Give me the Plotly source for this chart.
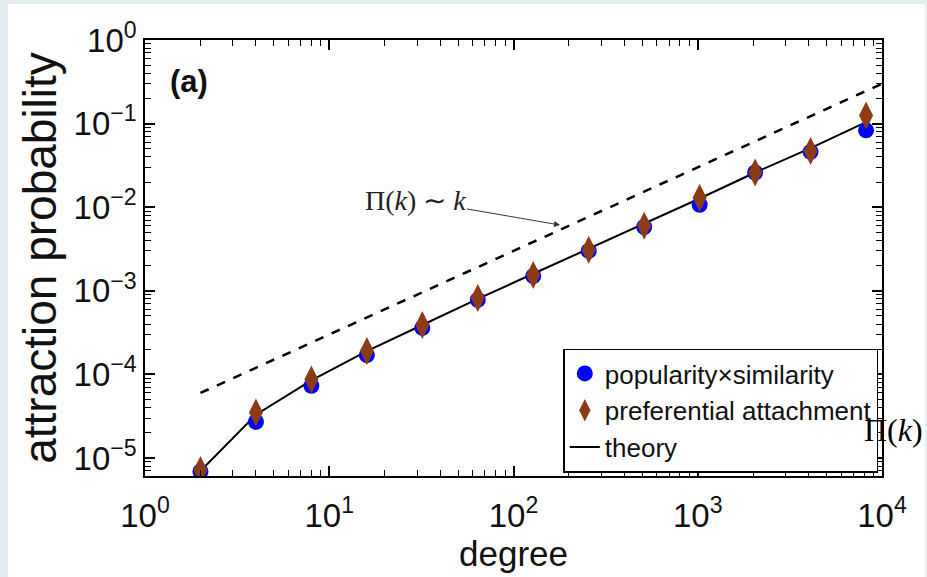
import plotly.graph_objects as go

# ---- data ----
degree = [2, 4, 8, 16, 32, 64, 128, 256, 512, 1024, 2048, 4096, 8192]
pop_sim = [6.9e-6, 2.7e-5, 7.3e-5, 1.7e-4, 3.6e-4, 7.8e-4, 1.5e-3, 3.0e-3, 5.8e-3, 1.07e-2, 2.6e-2, 4.6e-2, 8.3e-2]
pref_att = [7.2e-6, 3.5e-5, 8.7e-5, 1.9e-4, 3.9e-4, 8.2e-4, 1.55e-3, 3.1e-3, 6.0e-3, 1.3e-2, 2.6e-2, 4.7e-2, 1.25e-1]
theory = [7.0e-6, 3.3e-5, 8.5e-5, 1.9e-4, 3.9e-4, 8.0e-4, 1.6e-3, 3.2e-3, 6.3e-3, 1.27e-2, 2.6e-2, 5.1e-2, 1.04e-1]
guide_k = [2, 10000]
guide_p = [6.0e-5, 0.3]

x_tickvals = [1, 10, 100, 1000, 10000]
x_ticktext = ["10<sup>0</sup>", "10<sup>1</sup>", "10<sup>2</sup>", "10<sup>3</sup>", "10<sup>4</sup>"]
y_tickvals = [1e-5, 1e-4, 1e-3, 1e-2, 1e-1, 1]
y_ticktext = ["10<sup>−5</sup>", "10<sup>−4</sup>", "10<sup>−3</sup>", "10<sup>−2</sup>", "10<sup>−1</sup>", "10<sup>0</sup>"]
x_minor = [m * 10 ** e for e in range(0, 4) for m in range(2, 10)]
y_minor = [m * 10.0 ** e for e in range(-6, 0) for m in range(2, 10)]

SANS = "Liberation Sans, Arial, sans-serif"
SERIF = "Liberation Serif, Times New Roman, serif"

W, H = 927, 577
L, R, T, B = 145, 45, 40, 101
PW, PH = W - L - R, H - T - B
YMIN = -5.215


def px_to_paper(px, py):
    return (px - L) / PW, (H - B - py) / PH


fig = go.Figure()
fig.add_trace(go.Scatter(x=guide_k, y=guide_p, mode="lines", showlegend=False,
                         line=dict(color="black", width=2.5, dash="dash")))
fig.add_trace(go.Scatter(x=degree, y=theory, mode="lines", name="theory", legendrank=3,
                         line=dict(color="black", width=2)))
fig.add_trace(go.Scatter(x=degree, y=pop_sim, mode="markers", name="popularity×similarity", legendrank=1,
                         marker=dict(symbol="circle", size=16, color="#0000ff")))
fig.add_trace(go.Scatter(x=degree, y=pref_att, mode="markers", name="preferential attachment", legendrank=2,
                         marker=dict(symbol="diamond-tall", size=20, color="#8c3c14")))

axis_common = dict(
    type="log", showline=True, linecolor="black", linewidth=1.5, mirror="ticks",
    ticks="inside", ticklen=10, tickwidth=1.5, tickcolor="black", showgrid=False, zeroline=False,
    tickfont=dict(family=SANS, size=33, color="#111"),
)

fig.update_xaxes(range=[0, 4], tickmode="array", tickvals=x_tickvals, ticktext=x_ticktext, ticklabelstandoff=10,
                 minor=dict(tickmode="array", tickvals=x_minor, ticks="inside", ticklen=6, tickwidth=1.2,
                            tickcolor="black", showgrid=False),
                 title=dict(text="degree", font=dict(family=SANS, size=35, color="#111"), standoff=5),
                 **axis_common)
fig.update_yaxes(range=[YMIN, 0], tickmode="array", tickvals=y_tickvals, ticktext=y_ticktext,
                 minor=dict(tickmode="array", tickvals=y_minor, ticks="inside", ticklen=6, tickwidth=1.2,
                            tickcolor="black", showgrid=False),
                 title=dict(text="attraction probability", font=dict(family=SANS, size=46, color="#111"), standoff=2),
                 **axis_common)

bx0, by0 = px_to_paper(8, 4)
bx1, by1 = px_to_paper(925, H)
fig.add_shape(type="rect", xref="paper", yref="paper", x0=bx0, y0=by1, x1=bx1, y1=by0,
              fillcolor="white", line=dict(width=0), layer="below")

ax_, ay_ = px_to_paper(189, 81)
fig.add_annotation(xref="paper", yref="paper", x=ax_, y=ay_, xanchor="center", yanchor="middle",
                   text="<b>(a)</b>", showarrow=False,
                   font=dict(family=SANS, size=31, color="#111"))

# arrow annotation  (head at pixel 560,225)
head_lx = (560 - L) / PW * 4
head_ly = -(225 - T) / PH * (-YMIN)
fig.add_annotation(x=head_lx, y=head_ly, xref="x", yref="y",
                   text="Π(<i>k</i>) ∼ <i>k</i>", showarrow=True, arrowhead=2, arrowsize=1.2,
                   arrowwidth=1, arrowcolor="#333", ax=-145, ay=-25,
                   font=dict(family=SERIF, size=28, color="#222"))

sx, sy = px_to_paper(893, 430)
fig.add_annotation(xref="paper", yref="paper", x=sx, y=sy, xanchor="center", yanchor="middle",
                   text="Π(<i>k</i>)", showarrow=False,
                   font=dict(family=SERIF, size=32, color="black"))

fig.update_layout(
    width=W, height=H,
    margin=dict(l=L, r=R, t=T, b=B, autoexpand=False),
    paper_bgcolor="#e4eef1", plot_bgcolor="white",
    legend=dict(x=0.995, y=0.008, xanchor="right", yanchor="bottom",
                bgcolor="white", bordercolor="black", borderwidth=1.5,
                font=dict(family=SANS, size=26, color="#111"),
                tracegroupgap=0, itemwidth=30),
)

fig.write_html("out.html", config={"displayModeBar": False},
               post_script="document.body.style.margin='0px';document.body.style.padding='0px';")
